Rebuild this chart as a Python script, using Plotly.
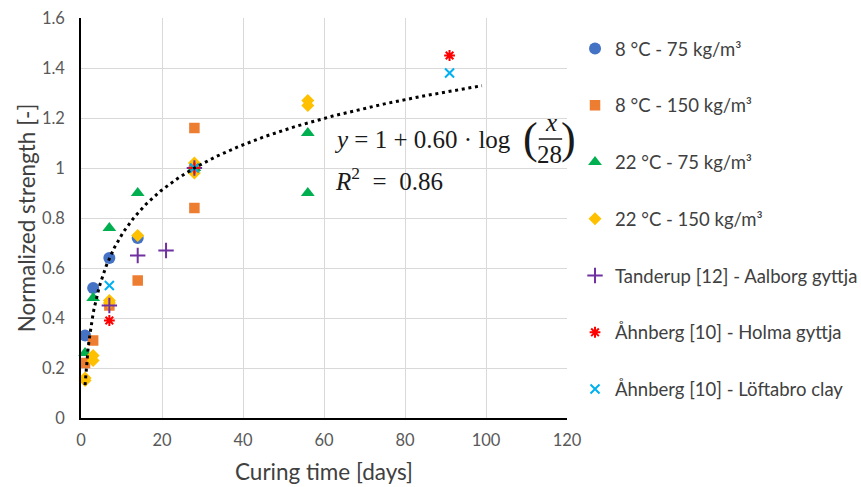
import numpy as np
import plotly.graph_objects as go

# ---------------- data ----------------
days_8_75 = [1, 3, 7, 14, 28]
str_8_75 = [0.33, 0.52, 0.64, 0.72, 1.00]

days_8_150 = [1, 3, 7, 14, 28, 28, 28]
str_8_150 = [0.22, 0.31, 0.45, 0.55, 1.16, 1.00, 0.84]

days_22_75 = [1, 3, 7, 14, 28, 56, 56]
str_22_75 = [0.26, 0.48, 0.76, 0.90, 1.00, 1.14, 0.90]

days_22_150 = [1, 1, 3, 3, 7, 7, 14, 28, 28, 56, 56]
str_22_150 = [0.15, 0.16, 0.25, 0.23, 0.47, 0.46, 0.73, 1.02, 0.98, 1.27, 1.25]

days_tanderup = [7, 14, 21, 28]
str_tanderup = [0.45, 0.65, 0.67, 1.00]

days_holma = [7, 28, 91]
str_holma = [0.39, 1.00, 1.45]

days_loftabro = [7, 28, 91]
str_loftabro = [0.53, 1.00, 1.38]

# trendline y = A + B*log10(x/REF) as printed on chart
trend_a = 1.0
trend_b = 0.60
trend_ref = 28
trend_start, trend_end = 1, 99

x_ticks = [0, 20, 40, 60, 80, 100, 120]
y_ticks = [0, 0.2, 0.4, 0.6, 0.8, 1, 1.2, 1.4, 1.6]

names = [
    "8 °C - 75 kg/m³",
    "8 °C - 150 kg/m³",
    "22 °C - 75 kg/m³",
    "22 °C - 150 kg/m³",
    "Tanderup [12] - Aalborg gyttja",
    "Åhnberg [10] - Holma gyttja",
    "Åhnberg [10] - Löftabro clay",
]

FONT = "Lato"
SERIF = "Liberation Serif"
EQ_COLOR = "#1a1a1a"

fig = go.Figure()

series = [
    (days_8_75, str_8_75, dict(symbol="circle", size=12, color="#4472C4", line=dict(width=0))),
    (days_8_150, str_8_150, dict(symbol="square", size=10.5, color="#ED7D31", line=dict(width=0))),
    (days_22_75, str_22_75, dict(symbol="triangle-up", size=12, color="#00B050", line=dict(width=0))),
    (days_22_150, str_22_150, dict(symbol="diamond", size=10, color="#FFC000", line=dict(width=0))),
    (days_tanderup, str_tanderup, dict(symbol="cross-thin-open", size=11, color="#7030A0", line=dict(width=2, color="#7030A0"))),
    (days_holma, str_holma, dict(symbol="asterisk-open", size=9, color="#FF0000", line=dict(width=2, color="#FF0000"))),
    (days_loftabro, str_loftabro, dict(symbol="x-thin-open", size=9, color="#00B0F0", line=dict(width=2, color="#00B0F0"))),
]

for i, ((xs, ys, mk), nm) in enumerate(zip(series, names)):
    fig.add_trace(go.Scatter(x=xs, y=ys, mode="markers", name=nm, marker=mk,
                             legendgroup=f"g{i}", cliponaxis=False))

xt = np.linspace(trend_start, trend_end, 400)
yt = trend_a + trend_b * np.log10(xt / trend_ref)
fig.add_trace(go.Scatter(x=xt, y=yt, mode="lines", showlegend=False,
                         line=dict(color="black", width=3, dash="3px,3.7px"),
                         hoverinfo="skip"))

# equation annotations (paper coordinates)
eq_font = dict(family=SERIF, size=25, color=EQ_COLOR)
paren_font = dict(family=SERIF, size=44, color=EQ_COLOR)
dy = 0.0075
fig.add_annotation(x=0.5164, y=0.69 + dy, xref="paper", yref="paper", xanchor="left", yanchor="middle",
                   text="<i>y</i> = 1 + 0.60 · log", showarrow=False, font=eq_font)
fig.add_annotation(x=0.925, y=0.6925 + dy, xref="paper", yref="paper", xanchor="center", yanchor="middle",
                   text="(", showarrow=False, font=paren_font)
fig.add_annotation(x=1.003, y=0.6925 + dy, xref="paper", yref="paper", xanchor="center", yanchor="middle",
                   text=")", showarrow=False, font=paren_font)
fig.add_annotation(x=0.968, y=0.7325 + dy, xref="paper", yref="paper", xanchor="center", yanchor="middle",
                   text="<i>x</i>", showarrow=False, font=eq_font)
fig.add_annotation(x=0.964, y=0.651 + dy, xref="paper", yref="paper", xanchor="center", yanchor="middle",
                   text="28", showarrow=False, font=eq_font)
fig.add_shape(type="line", xref="paper", yref="paper", x0=0.942, x1=0.990, y0=0.69 + dy, y1=0.69 + dy,
              line=dict(color=EQ_COLOR, width=1.5))
fig.add_annotation(x=0.519, y=0.5975, xref="paper", yref="paper", xanchor="left", yanchor="middle",
                   text="<i>R</i><sup>2</sup>  =  0.86", showarrow=False, font=eq_font)

fig.update_layout(
    width=861, height=487,
    margin=dict(l=81, r=294, t=18, b=69, autoexpand=False),
    paper_bgcolor="white", plot_bgcolor="white",
    font=dict(family=FONT, color="#404040"),
    showlegend=True,
    legend=dict(x=1.0165, y=0.97, xanchor="left", yanchor="top",
                font=dict(family=FONT, size=18.5, color="#404040"),
                tracegroupgap=29.7, bgcolor="rgba(0,0,0,0)", itemsizing="trace"),
    xaxis=dict(range=[0, 120], tickvals=x_ticks, showgrid=True, gridcolor="#d9d9d9", gridwidth=1.3,
               zeroline=False, showline=True, linecolor="black", linewidth=1.5,
               ticks="", ticklabelstandoff=6, automargin=False,
               tickfont=dict(family=FONT, size=16.5, color="#595959"),
               title=dict(text="Curing time [days]", standoff=16,
                          font=dict(family=FONT, size=22.5, color="#404040"))),
    yaxis=dict(range=[0, 1.6], tickvals=y_ticks, showgrid=True, gridcolor="#d9d9d9", gridwidth=1.3,
               zeroline=False, showline=True, linecolor="black", linewidth=1.5,
               ticks="", ticklabelstandoff=11, automargin=False,
               tickfont=dict(family=FONT, size=16.5, color="#595959"),
               title=dict(text="Normalized strength [-]", standoff=0,
                          font=dict(family=FONT, size=22.5, color="#404040"))),
)

fig.write_html("out.html", config={"displayModeBar": False},
               post_script="document.body.style.margin='0';document.body.style.padding='0';")
